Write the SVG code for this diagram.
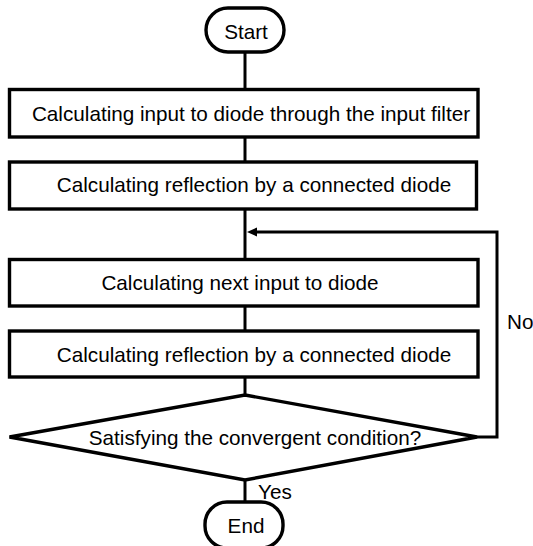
<svg xmlns="http://www.w3.org/2000/svg" width="533" height="546" viewBox="0 0 533 546">
<defs>
<style>
.s{fill:#fff;stroke:#000;stroke-width:3.4}
.t{font-family:"Liberation Sans",Arial,sans-serif;font-size:20.7px;fill:#000;text-anchor:middle}
.l{font-family:"Liberation Sans",Arial,sans-serif;font-size:20.7px;fill:#000}
.c{fill:none;stroke:#000;stroke-width:3}
</style>
</defs>
<g id="connectors">
<line class="c" x1="245" y1="52" x2="245" y2="90"/>
<line class="c" x1="245" y1="137" x2="245" y2="162"/>
<line class="c" x1="245" y1="209" x2="245" y2="260"/>
<line class="c" x1="245" y1="306" x2="245" y2="331"/>
<line class="c" x1="245" y1="377" x2="245" y2="395"/>
<line class="c" x1="245" y1="480" x2="245" y2="502"/>
<polyline class="c" points="477,437 497,437 497,232 254,232"/>
<path d="M247,232 L257,227.5 L257,236.5 Z" fill="#000"/>
<text class="l" x="258" y="499">Yes</text>
<text class="l" x="507" y="329">No</text>
</g>
<g id="start">
<rect class="s" x="206" y="8" width="78" height="44" rx="22"/>
<text class="t" x="246" y="39">Start</text>
</g>
<g id="step1">
<rect class="s" x="9.5" y="89.5" width="468.5" height="47.5"/>
<text class="t" x="251" y="121">Calculating input to diode through the input filter</text>
</g>
<g id="step2">
<rect class="s" x="9.5" y="162" width="467" height="47"/>
<text class="t" x="254" y="192">Calculating reflection by a connected diode</text>
</g>
<g id="step3">
<rect class="s" x="9.5" y="259.5" width="468.5" height="46.5"/>
<text class="t" x="240" y="290">Calculating next input to diode</text>
</g>
<g id="step4">
<rect class="s" x="9.5" y="331" width="468.5" height="46"/>
<text class="t" x="254" y="362">Calculating reflection by a connected diode</text>
</g>
<g id="decision">
<polygon class="s" points="245,395 477,437 245,480 9.5,437"/>
<text class="t" x="255" y="445">Satisfying the convergent condition?</text>
</g>
<g id="end">
<rect class="s" x="205" y="502" width="78" height="46" rx="22"/>
<text class="t" x="246" y="533">End</text>
</g>
</svg>
